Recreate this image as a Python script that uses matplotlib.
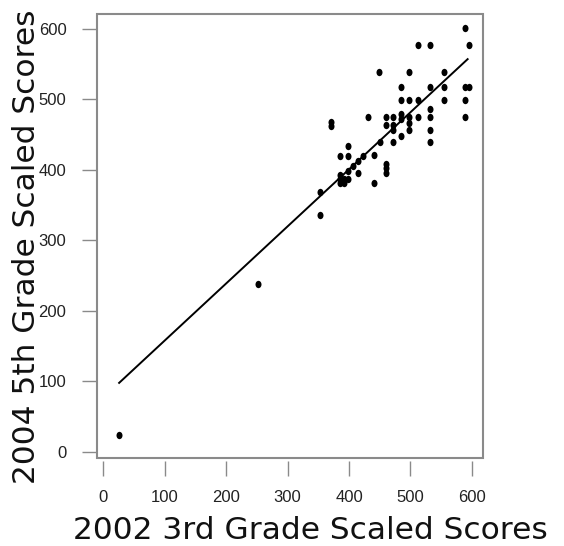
import matplotlib
matplotlib.use("Agg")
import matplotlib.pyplot as plt
from matplotlib.path import Path
from matplotlib.transforms import Affine2D
from matplotlib.patches import Rectangle

# ---- data ----
x_2002 = [26, 252, 352, 352, 370, 370,
          385, 385, 385, 385, 392, 392,
          399, 399, 399, 399, 407, 415, 415, 423, 431,
          440, 440, 449, 450,
          460, 460, 460, 460, 460,
          471, 471, 471, 471,
          484, 484, 484, 484, 484,
          497, 497, 497, 497, 497,
          513, 513, 513,
          532, 532, 532, 532, 532, 532,
          555, 555, 555,
          588, 588, 588, 588,
          595, 595]
y_2004 = [24, 238, 336, 368, 468, 462,
          420, 393, 387, 381, 387, 381,
          434, 420, 398, 387, 405, 413, 396, 420, 475,
          421, 381, 539, 439,
          475, 464, 409, 402, 395,
          475, 464, 457, 440,
          517, 499, 479, 472, 448,
          539, 499, 475, 466, 457,
          577, 499, 475,
          577, 517, 486, 475, 457, 439,
          539, 517, 499,
          601, 517, 499, 475,
          577, 517]
fit_x = [26, 593]
fit_y = [98, 557]

x_ticks = [0, 100, 200, 300, 400, 500, 600]
y_ticks = [0, 100, 200, 300, 400, 500, 600]
x_label = "2002 3rd Grade Scaled Scores"
y_label = "2004 5th Grade Scaled Scores"

W, H = 564, 546
fig = plt.figure(figsize=(W / 100, H / 100), dpi=100)
ax = fig.add_axes([97 / W, 1 - 458 / H, (483 - 97) / W, (458 - 14) / H])

oval = Path.unit_circle().transformed(Affine2D().scale(0.82, 1.0))
ax.scatter(x_2002, y_2004, marker=oval, s=28, color="black", linewidths=0, zorder=3)
ax.plot(fit_x, fit_y, color="black", linewidth=1.4, zorder=2)

ax.set_xlim(-10, 618)
ax.set_ylim(-8.5, 621)
ax.set_xticks(x_ticks)
ax.set_yticks(y_ticks)

box_col = "#8a8a8a"
for s in ax.spines.values():
    s.set_visible(False)
ax.spines["bottom"].set_position(("outward", 2))
ax.add_patch(Rectangle((0, 0), 1, 1, transform=ax.transAxes, fill=False,
                       edgecolor=box_col, linewidth=1.5, clip_on=False, zorder=4))

tick_font = ["Liberation Sans Narrow", "Liberation Sans", "DejaVu Sans"]
ax.tick_params(axis="both", direction="out", length=11, width=1.0, color=box_col,
               labelcolor="#222222", labelsize=12)
ax.tick_params(axis="x", pad=10)
ax.tick_params(axis="y", pad=11)
for lab in ax.get_xticklabels() + ax.get_yticklabels():
    lab.set_fontfamily(tick_font)

ax.set_xlabel(x_label, fontsize=22.5, family="DejaVu Sans", color="#111111")
ax.set_ylabel(y_label, fontsize=22.5, family="DejaVu Sans", color="#111111")
ax.xaxis.label.set_va("baseline")
ax.xaxis.set_label_coords(0.554, -0.182)
ax.yaxis.label.set_va("center")
ax.yaxis.set_label_coords(-0.183, 0.475)

fig.savefig("out.png", dpi=100)
